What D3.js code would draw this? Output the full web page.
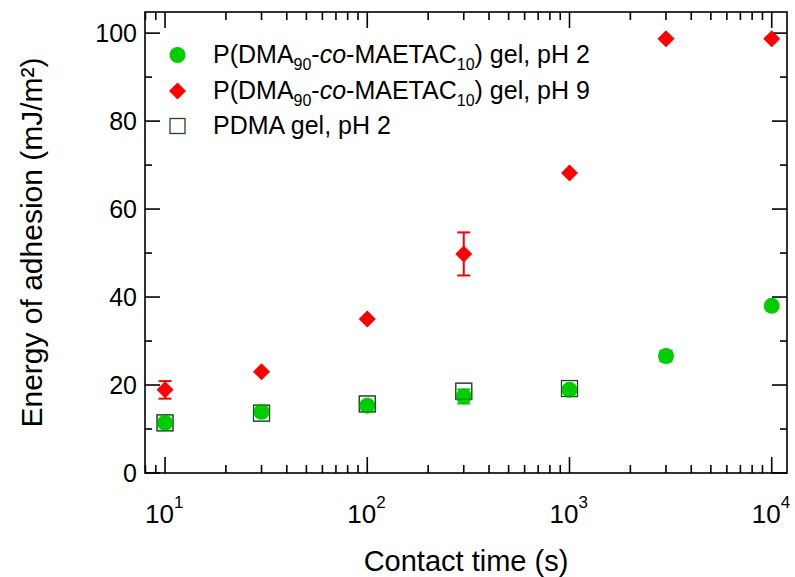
<!DOCTYPE html>
<html><head><meta charset="utf-8">
<script src="https://cdn.jsdelivr.net/npm/d3@7"></script>
<style>body{margin:0;background:#fff}svg{display:block}text{font-family:"Liberation Sans",Arial,sans-serif;fill:#000}</style>
</head><body>
<script>
// Data
const times = [10, 30, 100, 300, 1000, 3000, 10000];
const greenVals = [11.4, 13.9, 15.3, 17.4, 18.9, 26.6, 38.0];
const greenErr  = [0, 0, 0, 1.6, 0, 1.2, 0];
const redVals   = [18.9, 23.0, 35.0, 49.8, 68.2, 98.7, 98.7];
const redErr    = [2.0, 0, 0, 4.9, 0, 0, 0];
const pdmaTimes = [10, 30, 100, 300, 1000];
const pdmaVals  = [11.4, 13.6, 15.7, 18.6, 19.2];
const yTicks = [0, 20, 40, 60, 80, 100];
const xTicks = [10, 100, 1000, 10000];
const xExp = ["1", "2", "3", "4"];
const legendLabels = [
  {pre:"P(DMA", sub1:"90", mid:"-", it:"co", mid2:"-MAETAC", sub2:"10", post:") gel, pH 2"},
  {pre:"P(DMA", sub1:"90", mid:"-", it:"co", mid2:"-MAETAC", sub2:"10", post:") gel, pH 9"},
  {plain:"PDMA gel, pH 2"}
];

const W = 795, H = 577;
const L = 145, R = 787, T = 12, B = 473;
const GREEN = "#00cc00", RED = "#ff0000", SQ = "#1c4a1c";

const svg = d3.select("body").append("svg").attr("width", W).attr("height", H);
const x = d3.scaleLog().domain([7.96, 11900]).range([L, R]);
const y = d3.scaleLinear().domain([0, 104.8]).range([B, T]);

// minor ticks
const xMinor = [];
[1, 10, 100, 1000].forEach(d => { for (let k = 1; k <= 9; k++) { const v = d * k; if (v >= 7.96 && v <= 11900 && !xTicks.includes(v)) xMinor.push(v); } });
const yMinor = [10, 30, 50, 70, 90];

const ax = svg.append("g").attr("stroke", "#000").attr("stroke-width", 1.6);
xTicks.forEach(v => {
  ax.append("line").attr("x1", x(v)).attr("x2", x(v)).attr("y1", B).attr("y2", B - 16);
  ax.append("line").attr("x1", x(v)).attr("x2", x(v)).attr("y1", T).attr("y2", T + 16);
});
xMinor.forEach(v => {
  ax.append("line").attr("x1", x(v)).attr("x2", x(v)).attr("y1", B).attr("y2", B - 8);
  ax.append("line").attr("x1", x(v)).attr("x2", x(v)).attr("y1", T).attr("y2", T + 8);
});
yTicks.forEach(v => {
  ax.append("line").attr("x1", L).attr("x2", L + 15).attr("y1", y(v)).attr("y2", y(v));
  ax.append("line").attr("x1", R).attr("x2", R - 15).attr("y1", y(v)).attr("y2", y(v));
});
yMinor.forEach(v => {
  ax.append("line").attr("x1", L).attr("x2", L + 7).attr("y1", y(v)).attr("y2", y(v));
  ax.append("line").attr("x1", R).attr("x2", R - 7).attr("y1", y(v)).attr("y2", y(v));
});
ax.append("rect").attr("x", L).attr("y", T).attr("width", R - L).attr("height", B - T).attr("fill", "none");

// tick labels
yTicks.forEach(v => {
  svg.append("text").attr("x", 137).attr("y", y(v) + 9).attr("text-anchor", "end")
    .attr("font-size", 25).text(v);
});
xTicks.forEach((v, i) => {
  const t = svg.append("text").attr("x", x(v) - 20).attr("y", 523).attr("font-size", 26);
  t.append("tspan").text("10");
  t.append("tspan").attr("font-size", 17).attr("dy", -15).text(xExp[i]);
});

// axis titles
svg.append("text").attr("x", (L + R) / 2).attr("y", 571).attr("text-anchor", "middle")
  .attr("font-size", 29).text("Contact time (s)");
svg.append("text").attr("transform", `translate(42,${(T + B) / 2}) rotate(-90)`).attr("text-anchor", "middle")
  .attr("font-size", 30).text("Energy of adhesion (mJ/m²)");

// error bars
function errBars(xs, vals, errs, color) {
  const g = svg.append("g").attr("stroke", color).attr("stroke-width", 2);
  xs.forEach((t, i) => {
    if (!errs[i]) return;
    const cx = x(t), y1 = y(vals[i] + errs[i]), y2 = y(vals[i] - errs[i]);
    g.append("line").attr("x1", cx).attr("x2", cx).attr("y1", y1).attr("y2", y2);
    g.append("line").attr("x1", cx - 6.5).attr("x2", cx + 6.5).attr("y1", y1).attr("y2", y1);
    g.append("line").attr("x1", cx - 6.5).attr("x2", cx + 6.5).attr("y1", y2).attr("y2", y2);
  });
}
errBars(times, redVals, redErr, RED);
errBars(times, greenVals, greenErr, GREEN);

const diamond = (cx, cy, r) => `M${cx},${cy - r}L${cx + r},${cy}L${cx},${cy + r}L${cx - r},${cy}Z`;

// PDMA squares
svg.append("g").selectAll("rect").data(pdmaTimes).join("rect")
  .attr("x", (d) => x(d) - 8).attr("y", (d, i) => y(pdmaVals[i]) - 8)
  .attr("width", 16).attr("height", 16).attr("fill", "none").attr("stroke", SQ).attr("stroke-width", 1.3);
// green circles
svg.append("g").selectAll("circle").data(times).join("circle")
  .attr("cx", d => x(d)).attr("cy", (d, i) => y(greenVals[i])).attr("r", 8).attr("fill", GREEN);
// PDMA square outlines on top (faint)
svg.append("g").selectAll("rect").data(pdmaTimes).join("rect")
  .attr("x", (d) => x(d) - 8).attr("y", (d, i) => y(pdmaVals[i]) - 8)
  .attr("width", 16).attr("height", 16).attr("fill", "none").attr("stroke", SQ).attr("stroke-width", 1).attr("stroke-opacity", 0.6);
// red diamonds
svg.append("g").selectAll("path").data(times).join("path")
  .attr("d", (d, i) => diamond(x(d), y(redVals[i]), 8.5)).attr("fill", RED);

// legend
const lx = 177.5, tx = 213;
const rows = [55, 91, 126];
svg.append("circle").attr("cx", lx).attr("cy", rows[0]).attr("r", 8).attr("fill", GREEN);
svg.append("path").attr("d", diamond(lx, rows[1], 8.5)).attr("fill", RED);
svg.append("rect").attr("x", lx - 7.5).attr("y", rows[2] - 7.5).attr("width", 15).attr("height", 15)
  .attr("fill", "none").attr("stroke", SQ).attr("stroke-width", 1.3);
legendLabels.forEach((lab, i) => {
  const t = svg.append("text").attr("x", tx).attr("y", rows[i] + 8).attr("font-size", 25);
  if (lab.plain) { t.text(lab.plain); return; }
  t.append("tspan").text(lab.pre);
  t.append("tspan").attr("font-size", 16).attr("dy", 7).text(lab.sub1);
  t.append("tspan").attr("dy", -7).text(lab.mid);
  t.append("tspan").attr("font-style", "italic").text(lab.it);
  t.append("tspan").text(lab.mid2);
  t.append("tspan").attr("font-size", 16).attr("dy", 7).text(lab.sub2);
  t.append("tspan").attr("dy", -7).text(lab.post);
});
</script>
</body></html>
